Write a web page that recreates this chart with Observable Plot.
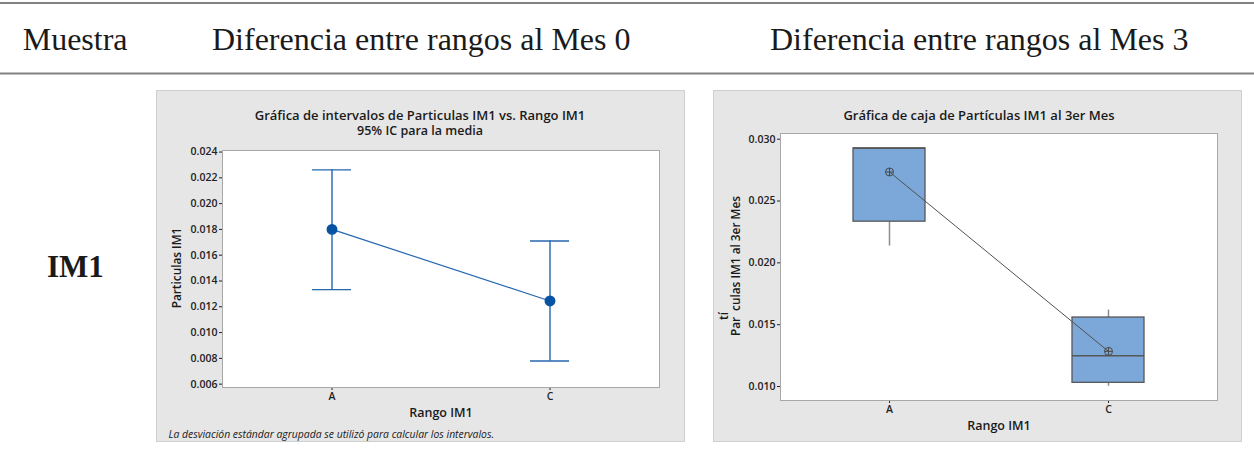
<!DOCTYPE html>
<html>
<head>
<meta charset="utf-8">
<script src="https://cdn.jsdelivr.net/npm/d3@7"></script>
<script src="https://cdn.jsdelivr.net/npm/@observablehq/plot@0.6"></script>
<style>
  html, body { margin: 0; padding: 0; background: #fff; }
  #page { position: relative; width: 1254px; height: 456px; overflow: hidden; background: #fff; }
  .panel { position: absolute; background: #e6e6e6; outline: 1px solid #cfcfcf; outline-offset: -1px; }
  .panel svg { position: absolute; left: 0; top: 0; }
  #header { position: absolute; left: 0; top: 0; }
</style>
</head>
<body>
<div id="page">
  <svg id="header" width="1254" height="456"></svg>
  <div class="panel" id="p0" style="left:156px; top:90px; width:529px; height:352px;"></div>
  <div class="panel" id="p3" style="left:713px; top:90px; width:529px; height:352px;"></div>
</div>
<script>
// ---------- Table text ----------
const encabezados = ["Muestra", "Diferencia entre rangos al Mes 0", "Diferencia entre rangos al Mes 3"];
const muestra = "IM1";

// ---------- Chart 1: interval plot (Mes 0) ----------
const rangos = ["A", "C"];
const media0 = [0.0180, 0.01245];
const icInf0 = [0.01333, 0.0078];
const icSup0 = [0.02262, 0.01710];
const ticksY0 = [0.006, 0.008, 0.010, 0.012, 0.014, 0.016, 0.018, 0.020, 0.022, 0.024];
const titulo0 = "Gráfica de intervalos de Particulas IM1 vs. Rango IM1";
const subtitulo0 = "95% IC para la media";
const etiquetaY0 = "Particulas IM1";
const etiquetaX = "Rango IM1";
const nota0 = "La desviación estándar agrupada se utilizó para calcular los intervalos.";

// ---------- Chart 2: box plot (Mes 3) ----------
const bigoteInf3 = [0.02136, 0.01002];
const q1_3 = [0.02333, 0.01030];
const mediana3 = [0.02926, 0.01249];
const q3_3 = [0.02926, 0.01558];
const bigoteSup3 = [0.02926, 0.01618];
const media3 = [0.02735, 0.01284];
const ticksY3 = [0.010, 0.015, 0.020, 0.025, 0.030];
const titulo3 = "Gráfica de caja de Partículas IM1 al 3er Mes";
const etiquetaY3a = "Par\u2002culas IM1 al 3er Mes";
const etiquetaY3b = "tí";

// ---------- Header (table) ----------
const hdr = d3.select("#header");
hdr.append("rect").attr("x", 0).attr("y", 2).attr("width", 1254).attr("height", 2).attr("fill", "#828282");
hdr.append("rect").attr("x", 0).attr("y", 72.5).attr("width", 1254).attr("height", 2).attr("fill", "#828282");
const hx = [22.7, 212, 770];
encabezados.forEach((t, i) => {
  hdr.append("text").attr("x", hx[i]).attr("y", 50)
    .attr("font-family", "'Liberation Serif', 'Times New Roman', serif")
    .attr("font-size", 32).attr("fill", "#1a1a1a").text(t);
});
hdr.append("text").attr("x", 47).attr("y", 277)
  .attr("font-family", "'Liberation Serif', 'Times New Roman', serif")
  .attr("font-weight", "bold").attr("font-size", 31).attr("fill", "#1a1a1a").text(muestra);

const idx = d3.range(rangos.length);
const baseStyle = {
  fontFamily: "'Open Sans', 'Noto Sans', sans-serif",
  fontSize: "10.5px",
  fontWeight: 600,
  background: "transparent",
  overflow: "visible",
  color: "#222"
};
const txt = {fontFamily: "'Open Sans', 'Noto Sans', sans-serif", fill: "#1a1a1a"};

// ---------- Plot 1 ----------
const azul = "#2466b1";
const azulPunto = "#0652a3";
const plot0 = Plot.plot({
  width: 529, height: 352,
  marginLeft: 66, marginRight: 26, marginTop: 60, marginBottom: 55,
  style: baseStyle,
  x: {type: "band", domain: rangos, paddingInner: 0.822, paddingOuter: 0.409, tickSize: 3, tickPadding: 2, label: null},
  y: {domain: [0.00574, 0.02412], ticks: ticksY0, tickFormat: d3.format(".3f"), tickSize: 3, tickPadding: 2, label: null},
  marks: [
    Plot.frame({fill: "white", stroke: "#a8a8a8"}),
    Plot.ruleX(idx, {x: i => rangos[i], y1: i => icInf0[i], y2: i => icSup0[i], stroke: azul, strokeWidth: 1.4}),
    Plot.tickY(idx, {x: i => rangos[i], y: i => icInf0[i], stroke: azul, strokeWidth: 1.4}),
    Plot.tickY(idx, {x: i => rangos[i], y: i => icSup0[i], stroke: azul, strokeWidth: 1.4}),
    Plot.line(idx, {x: i => rangos[i], y: i => media0[i], stroke: azul, strokeWidth: 1.2}),
    Plot.dot(idx, {x: i => rangos[i], y: i => media0[i], r: 4.7, fill: azulPunto, stroke: azulPunto}),
    Plot.text([titulo0], {text: d => d, frameAnchor: "top", dx: -21, dy: -35, lineAnchor: "middle", fontSize: 13, fontWeight: 600, ...txt}),
    Plot.text([subtitulo0], {text: d => d, frameAnchor: "top", dx: -21, dy: -20, lineAnchor: "middle", fontSize: 12.5, fontWeight: 600, ...txt}),
    Plot.text([etiquetaY0], {text: d => d, frameAnchor: "left", dx: -45, dy: -1, rotate: -90, textAnchor: "middle", lineAnchor: "middle", fontSize: 11.8, fontWeight: 600, ...txt}),
    Plot.text([etiquetaX], {text: d => d, frameAnchor: "bottom", dy: 25, lineAnchor: "middle", fontSize: 12.5, fontWeight: 600, ...txt}),
    Plot.text([nota0], {text: d => d, frameAnchor: "bottom-left", dx: -54, dy: 47, textAnchor: "start", lineAnchor: "middle", fontSize: 10.4, fontWeight: 400, fontStyle: "italic", ...txt})
  ]
});
document.getElementById("p0").appendChild(plot0);

// ---------- Plot 2 ----------
const cajaRelleno = "#7ba7d9";
const cajaBorde = "#575757";
const bigote = "#8c8c8c";
const plusCircle = {
  draw(ctx, size) {
    const r = Math.sqrt(size / Math.PI);
    ctx.moveTo(r, 0);
    ctx.arc(0, 0, r, 0, 2 * Math.PI);
    ctx.moveTo(-r, 0); ctx.lineTo(r, 0);
    ctx.moveTo(0, -r); ctx.lineTo(0, r);
  }
};
const plot3 = Plot.plot({
  width: 529, height: 352,
  marginLeft: 67, marginRight: 25, marginTop: 43, marginBottom: 42,
  style: baseStyle,
  x: {type: "band", domain: rangos, paddingInner: 0.671, paddingOuter: 0.333, tickSize: 3, tickPadding: 2, label: null},
  y: {domain: [0.00887, 0.03046], ticks: ticksY3, tickFormat: d3.format(".3f"), tickSize: 3, tickPadding: 2, label: null},
  marks: [
    Plot.frame({fill: "white", stroke: "#a8a8a8"}),
    Plot.ruleX(idx, {x: i => rangos[i], y1: i => bigoteInf3[i], y2: i => q1_3[i], stroke: bigote, strokeWidth: 1.5}),
    Plot.ruleX(idx, {x: i => rangos[i], y1: i => q3_3[i], y2: i => bigoteSup3[i], stroke: bigote, strokeWidth: 1.5}),
    Plot.barY(idx, {x: i => rangos[i], y1: i => q1_3[i], y2: i => q3_3[i], fill: cajaRelleno, stroke: cajaBorde, strokeWidth: 1.3}),
    Plot.tickY(idx, {x: i => rangos[i], y: i => mediana3[i], stroke: cajaBorde, strokeWidth: 1.5}),
    Plot.line(idx, {x: i => rangos[i], y: i => media3[i], stroke: "#505050", strokeWidth: 1}),
    Plot.dot(idx, {x: i => rangos[i], y: i => media3[i], r: 4, symbol: plusCircle, fill: "none", stroke: "#4a4a4a", strokeWidth: 1}),
    Plot.text([titulo3], {text: d => d, frameAnchor: "top", dx: -20, dy: -18, lineAnchor: "middle", fontSize: 13, fontWeight: 600, ...txt}),
    Plot.text([etiquetaY3a], {text: d => d, frameAnchor: "left", dx: -44.5, dy: -1, rotate: -90, textAnchor: "middle", lineAnchor: "middle", fontSize: 11.8, fontWeight: 600, ...txt}),
    Plot.text([etiquetaY3b], {text: d => d, frameAnchor: "left", dx: -56, dy: 49, rotate: -90, textAnchor: "middle", lineAnchor: "middle", fontSize: 11.8, fontWeight: 600, ...txt}),
    Plot.text([etiquetaX], {text: d => d, frameAnchor: "bottom", dy: 25.5, lineAnchor: "middle", fontSize: 12.5, fontWeight: 600, ...txt})
  ]
});
document.getElementById("p3").appendChild(plot3);
</script>
</body>
</html>
